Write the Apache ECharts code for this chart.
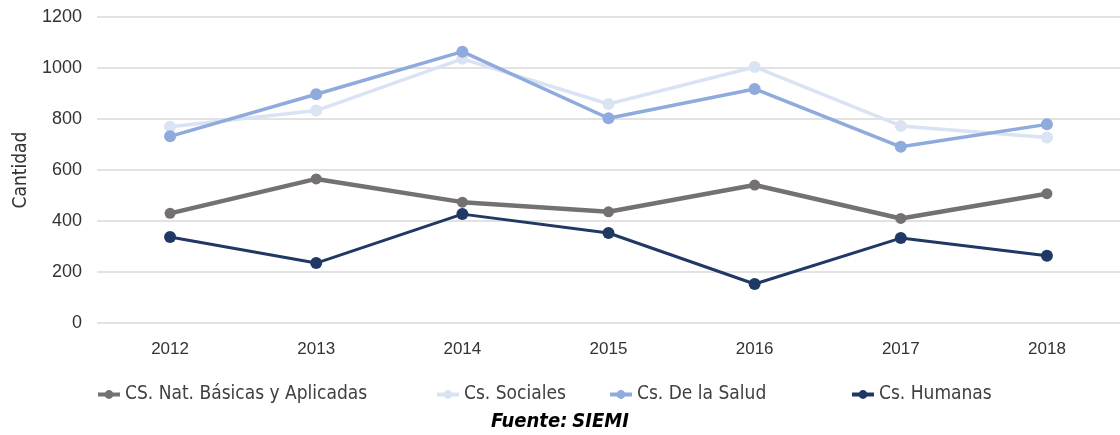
<!DOCTYPE html>
<html>
<head>
<meta charset="utf-8">
<script src="https://cdn.jsdelivr.net/npm/echarts@6/dist/echarts.min.js"></script>
<style>
  html, body { margin: 0; padding: 0; background: #fff; }
  #c { width: 1120px; height: 435px; }
</style>
</head>
<body>
<div id="c"></div>
<script>
var years = ['2012', '2013', '2014', '2015', '2016', '2017', '2018'];
var yTicks = [0, 200, 400, 600, 800, 1000, 1200];
var natBasicas = [430, 565, 474, 436, 541, 410, 507];
var sociales = [770, 833, 1036, 859, 1004, 773, 727];
var salud = [732, 897, 1064, 803, 918, 691, 779];
var humanas = [337, 235, 427, 353, 153, 333, 264];
var names = ['CS. Nat. Básicas y Aplicadas', 'Cs. Sociales', 'Cs. De la Salud', 'Cs. Humanas'];

var narrow = '"DejaVu Sans Condensed", sans-serif';
var numFont = '"Liberation Sans", sans-serif';
var myChart = echarts.init(document.getElementById('c'));

function mkSeries(name, data, color, width, size) {
  return {
    name: name,
    type: 'line',
    data: data,
    symbol: 'circle',
    symbolSize: size,
    lineStyle: { color: color, width: width },
    itemStyle: { color: color },
    emphasis: { disabled: true }
  };
}

function mkLegend(name, left) {
  return {
    data: [name],
    left: left,
    top: 385,
    padding: 0,
    itemWidth: 22,
    itemHeight: 11,
    lineStyle: { width: 4 },
    textStyle: { fontFamily: narrow, fontSize: 19, color: '#404040' }
  };
}

option = {
  animation: false,
  title: {
    text: '{b|Fuente:} {i|SIEMI}',
    left: 'center',
    top: 412,
    padding: 0,
    textStyle: {
      rich: {
        b: { fontFamily: narrow, fontSize: 20, fontWeight: 'bold', fontStyle: 'italic', color: '#000' },
        i: { fontFamily: narrow, fontSize: 20, fontStyle: 'italic', color: '#000' }
      }
    }
  },
  legend: [
    mkLegend(names[0], 96),
    mkLegend(names[1], 435),
    mkLegend(names[2], 608),
    mkLegend(names[3], 850)
  ],
  grid: { left: 97, top: 17, width: 1029, height: 306 },
  xAxis: {
    type: 'category',
    data: years,
    axisLine: { show: false },
    axisTick: { show: false },
    axisLabel: { fontFamily: numFont, fontSize: 17, color: '#333333', margin: 18 }
  },
  yAxis: {
    type: 'value',
    min: yTicks[0],
    max: yTicks[yTicks.length - 1],
    interval: 200,
    name: 'Cantidad',
    nameLocation: 'middle',
    nameGap: 66,
    nameTextStyle: { fontFamily: narrow, fontSize: 19, color: '#333333' },
    axisLabel: {
      fontFamily: numFont, fontSize: 18, color: '#333333', margin: 15,
      formatter: function (v) { return String(v); }
    },
    splitLine: { lineStyle: { color: '#d9d9d9', width: 1.5 } }
  },
  series: [
    mkSeries(names[0], natBasicas, '#767171', 4.5, 11),
    mkSeries(names[1], sociales, '#dae3f3', 3.5, 12),
    mkSeries(names[2], salud, '#8faadc', 3.5, 12),
    mkSeries(names[3], humanas, '#203864', 3, 12)
  ]
};
option && myChart.setOption(option);
</script>
</body>
</html>
